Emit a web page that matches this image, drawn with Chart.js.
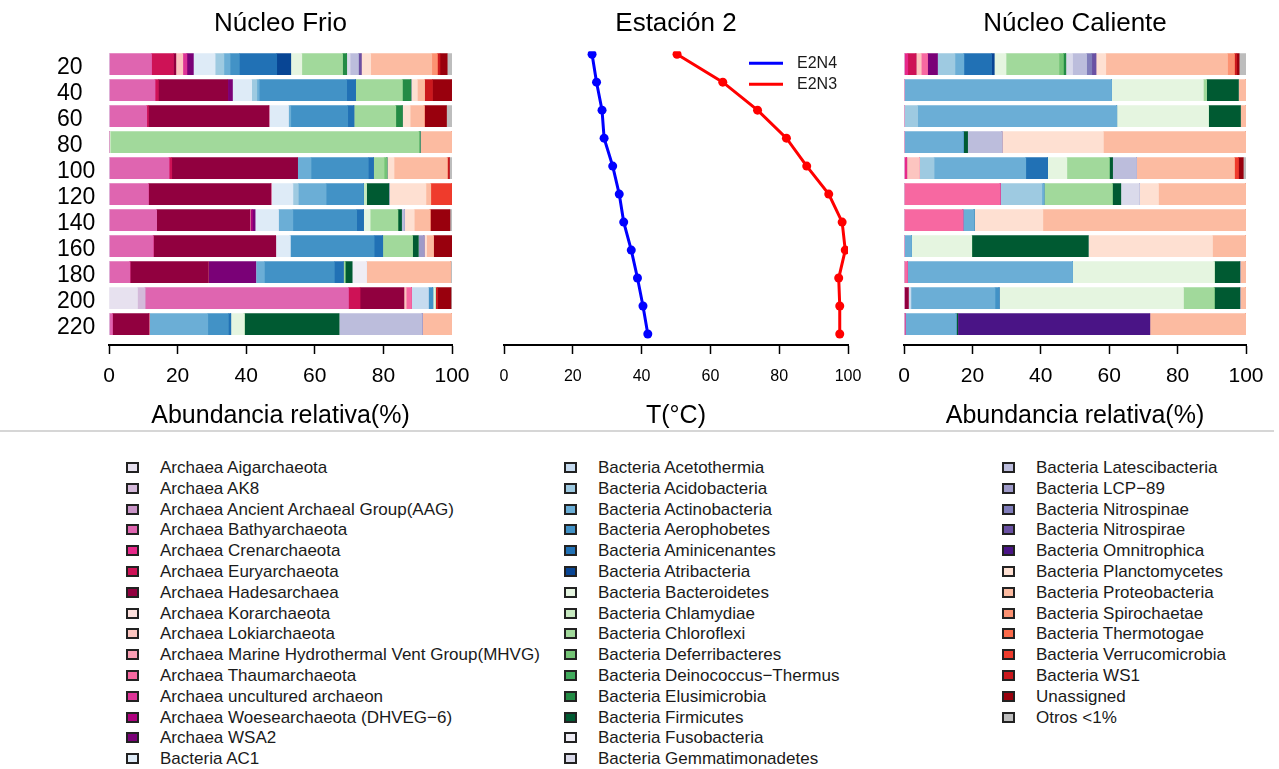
<!DOCTYPE html>
<html>
<head>
<meta charset="utf-8">
<title>Núcleo Frio / Estación 2 / Núcleo Caliente</title>
<script src="https://cdn.jsdelivr.net/npm/chart.js@4.4.1/dist/chart.umd.min.js"></script>
<style>
  html, body { margin: 0; padding: 0; background: #fff; }
  #page { position: relative; width: 1279px; height: 769px; overflow: hidden;
          font-family: 'Liberation Sans', Arial, sans-serif; }
  #page canvas { position: absolute; top: 0; }
  #rule { position: absolute; left: 0; top: 430px; width: 1274px; border-top: 2px solid #d6d6d6; }
  .key { position: absolute; height: 20px; line-height: 20px; font-size: 17px; color: #1a1a1a;
         white-space: nowrap; padding-left: 34px; }
  .key i { position: absolute; left: 0; top: 4px; width: 13px; height: 11px;
           border: 2px solid #222; box-sizing: border-box; }
</style>
</head>
<body>
<div id="page">
  <canvas id="frio" width="480" height="440" style="left:0px"></canvas>
  <canvas id="estacion" width="400" height="440" style="left:480px"></canvas>
  <canvas id="caliente" width="399" height="440" style="left:880px"></canvas>
  <div id="rule"></div>
  <div id="keys"></div>
</div>
<script>
// Sampling depths (rows of every panel)
const depths = [20, 40, 60, 80, 100, 120, 140, 160, 180, 200, 220];

// Taxa in stacking / legend order
const taxa = [
  'Archaea Aigarchaeota', 'Archaea AK8', 'Archaea Ancient Archaeal Group(AAG)', 'Archaea Bathyarchaeota',
  'Archaea Crenarchaeota', 'Archaea Euryarchaeota', 'Archaea Hadesarchaea', 'Archaea Korarchaeota',
  'Archaea Lokiarchaeota', 'Archaea Marine Hydrothermal Vent Group(MHVG)', 'Archaea Thaumarchaeota',
  'Archaea uncultured archaeon', 'Archaea Woesearchaeota (DHVEG\u22126)', 'Archaea WSA2',
  'Bacteria AC1', 'Bacteria Acetothermia', 'Bacteria Acidobacteria', 'Bacteria Actinobacteria',
  'Bacteria Aerophobetes', 'Bacteria Aminicenantes', 'Bacteria Atribacteria', 'Bacteria Bacteroidetes',
  'Bacteria Chlamydiae', 'Bacteria Chloroflexi', 'Bacteria Deferribacteres', 'Bacteria Deinococcus\u2212Thermus',
  'Bacteria Elusimicrobia', 'Bacteria Firmicutes', 'Bacteria Fusobacteria', 'Bacteria Gemmatimonadetes',
  'Bacteria Latescibacteria', 'Bacteria LCP\u221289', 'Bacteria Nitrospinae', 'Bacteria Nitrospirae',
  'Bacteria Omnitrophica', 'Bacteria Planctomycetes', 'Bacteria Proteobacteria', 'Bacteria Spirochaetae',
  'Bacteria Thermotogae', 'Bacteria Verrucomicrobia', 'Bacteria WS1', 'Unassigned', 'Otros <1%'
];

// One colour per taxon (sequential families per group)
const palette = [
  '#e7e1ef', '#d4b9da', '#c994c7', '#df65b0', '#e7298a', '#ce1256', '#91003f',
  '#fde0dd', '#fcc5c0', '#fa9fb5', '#f768a1', '#dd3497', '#ae017e', '#7a0177',
  '#deebf7', '#c6dbef', '#9ecae1', '#6baed6', '#4292c6', '#2171b5', '#084594',
  '#e5f5e0', '#c7e9c0', '#a1d99b', '#74c476', '#41ab5d', '#238b45', '#005a32',
  '#efedf5', '#dadaeb', '#bcbddc', '#9e9ac8', '#807dba', '#6a51a3', '#4a1486',
  '#fee0d2', '#fcbba1', '#fc9272', '#fb6a4a', '#ef3b2c', '#cb181d', '#99000d',
  '#bdbdbd'
];

// Short key of a taxon label: first word after the domain prefix
function keyOf(label) {
  return label.replace(/^(Archaea|Bacteria) /, '').replace(/\u2212/g, '-').split(/[ (]/)[0];
}

// Relative abundance (%) per depth, Núcleo Frio
const frio20 = { Bathyarchaeota: 12.4, Euryarchaeota: 6.4, Hadesarchaea: 0.7, Lokiarchaeota: 2.0, uncultured: 1.2, WSA2: 1.9,
  AC1: 6.3, Acidobacteria: 2.6, Actinobacteria: 1.8, Aerophobetes: 2.7, Aminicenantes: 10.9, Atribacteria: 4.1,
  Bacteroidetes: 3.2, Chloroflexi: 11.9, Elusimicrobia: 1.2, Gemmatimonadetes: 1.0, Latescibacteria: 2.4, Nitrospirae: 0.8,
  Planctomycetes: 2.8, Proteobacteria: 17.8, Spirochaetae: 1.6, WS1: 0.8, Unassigned: 2.1, Otros: 1.4 };
const frio40 = { Bathyarchaeota: 13.4, Euryarchaeota: 1.0, Hadesarchaea: 20.2, WSA2: 1.4, AC1: 5.6, Acidobacteria: 1.5,
  Actinobacteria: 0.7, Aerophobetes: 25.5, Aminicenantes: 2.6, Chloroflexi: 13.6, Elusimicrobia: 2.5,
  Planctomycetes: 1.9, Proteobacteria: 2.1, WS1: 2.3, Unassigned: 5.6 };
const frio60 = { Bathyarchaeota: 11.0, Euryarchaeota: 0.5, Hadesarchaea: 35.1, AC1: 5.7, Actinobacteria: 0.7,
  Aerophobetes: 16.6, Aminicenantes: 1.8, Chloroflexi: 12.2, Elusimicrobia: 1.9, Planctomycetes: 2.3,
  Proteobacteria: 4.1, Unassigned: 6.5, Otros: 1.6 };
const frio80 = { Chlamydiae: 0.5, Chloroflexi: 89.9, Elusimicrobia: 0.3, Proteobacteria: 9.3 };
const frio100 = { Bathyarchaeota: 17.5, Euryarchaeota: 0.8, Hadesarchaea: 36.7, Actinobacteria: 3.9, Aerophobetes: 16.7,
  Aminicenantes: 1.5, Chloroflexi: 3.1, Deferribacteres: 0.8, Planctomycetes: 2.1, Proteobacteria: 15.5, WS1: 0.6, Otros: 0.8 };
const frio120 = { Bathyarchaeota: 11.5, Hadesarchaea: 35.7, AC1: 6.4, Acidobacteria: 1.6, Actinobacteria: 8.1,
  Aerophobetes: 10.9, Chlamydiae: 0.9, Firmicutes: 6.5, Planctomycetes: 10.8, Proteobacteria: 1.4, Verrucomicrobia: 6.2 };
const frio140 = { Bathyarchaeota: 13.9, Hadesarchaea: 27.2, Woesearchaeota: 0.7, WSA2: 0.8, AC1: 6.8, Actinobacteria: 4.2,
  Aerophobetes: 18.6, Aminicenantes: 2.0, Bacteroidetes: 1.9, Chloroflexi: 8.1, Firmicutes: 1.1, Latescibacteria: 0.8,
  Planctomycetes: 2.9, Proteobacteria: 4.6, Unassigned: 5.8, Otros: 0.6 };
const frio160 = { Bathyarchaeota: 12.9, Hadesarchaea: 35.7, AC1: 4.2, Aerophobetes: 24.5, Aminicenantes: 2.5,
  Chloroflexi: 8.7, Firmicutes: 1.7, 'LCP-89': 1.6, Planctomycetes: 0.8, Proteobacteria: 2.0, Unassigned: 5.4 };
const frio180 = { Bathyarchaeota: 6.1, Hadesarchaea: 22.9, WSA2: 13.8, Actinobacteria: 2.5, Aerophobetes: 20.4,
  Aminicenantes: 2.6, Chloroflexi: 0.5, Firmicutes: 2.1, Fusobacteria: 4.2, Proteobacteria: 24.5, Otros: 0.4 };
const frio200 = { Aigarchaeota: 8.3, AK8: 2.2, Bathyarchaeota: 59.3, Euryarchaeota: 3.4, Hadesarchaea: 12.8,
  Lokiarchaeota: 0.6, Thaumarchaeota: 1.6, Acetothermia: 4.9, Aerophobetes: 1.3, Bacteroidetes: 0.7, WS1: 0.7,
  Unassigned: 3.9, Otros: 0.3 };
const frio220 = { Bathyarchaeota: 1.0, Hadesarchaea: 10.7, Actinobacteria: 17.1, Aerophobetes: 6.0, Aminicenantes: 0.7,
  Bacteroidetes: 3.9, Firmicutes: 27.7, Latescibacteria: 24.2, Proteobacteria: 8.7 };

// Relative abundance (%) per depth, Núcleo Caliente
const cal20 = { Crenarchaeota: 1.1, Euryarchaeota: 2.4, Lokiarchaeota: 1.5, Thaumarchaeota: 1.9, WSA2: 2.9,
  Acidobacteria: 5.1, Actinobacteria: 2.6, Aminicenantes: 8.1, Atribacteria: 0.8, Bacteroidetes: 3.4, Chloroflexi: 15.5,
  Deferribacteres: 1.3, Elusimicrobia: 0.7, Gemmatimonadetes: 2.0, Latescibacteria: 4.1, Nitrospinae: 1.5, Nitrospirae: 1.2,
  Planctomycetes: 2.9, Proteobacteria: 35.6, Spirochaetae: 2.0, WS1: 0.7, Unassigned: 0.7, Otros: 2.0 };
const cal40 = { Actinobacteria: 60.7, Bacteroidetes: 26.8, Chloroflexi: 1.0, Firmicutes: 9.3, Proteobacteria: 2.2 };
const cal60 = { Acidobacteria: 4.0, Actinobacteria: 58.2, Bacteroidetes: 26.8, Firmicutes: 9.4, Proteobacteria: 1.6 };
const cal80 = { Actinobacteria: 17.3, Firmicutes: 1.3, Latescibacteria: 10.0, Planctomycetes: 29.7, Proteobacteria: 41.7 };
const cal100 = { Crenarchaeota: 0.8, Lokiarchaeota: 3.7, Acidobacteria: 4.3, Actinobacteria: 26.8, Aminicenantes: 6.4,
  Bacteroidetes: 5.6, Chloroflexi: 12.4, Firmicutes: 1.0, Latescibacteria: 7.0, Proteobacteria: 28.6,
  Verrucomicrobia: 1.2, Unassigned: 1.4, Otros: 0.8 };
const cal120 = { Thaumarchaeota: 28.1, Acidobacteria: 12.2, Actinobacteria: 0.6, Chloroflexi: 20.0, Firmicutes: 2.5,
  Gemmatimonadetes: 5.4, Planctomycetes: 5.6, Proteobacteria: 25.6 };
const cal140 = { Thaumarchaeota: 17.2, Actinobacteria: 3.3, Planctomycetes: 20.1, Proteobacteria: 59.4 };
const cal160 = { Actinobacteria: 2.2, Bacteroidetes: 17.6, Firmicutes: 34.1, Planctomycetes: 36.3, Proteobacteria: 9.8 };
const cal180 = { Thaumarchaeota: 1.0, Actinobacteria: 48.3, Bacteroidetes: 41.4, Firmicutes: 7.5, Proteobacteria: 1.8 };
const cal200 = { Hadesarchaea: 1.3, Acetothermia: 0.7, Actinobacteria: 24.6, Aerophobetes: 1.2, Bacteroidetes: 53.9,
  Chloroflexi: 9.0, Firmicutes: 7.5, Proteobacteria: 1.8 };
const cal220 = { Thaumarchaeota: 0.3, Actinobacteria: 14.9, Firmicutes: 0.5, Omnitrophica: 56.2, Proteobacteria: 28.1 };

const frioRows = [frio20, frio40, frio60, frio80, frio100, frio120, frio140, frio160, frio180, frio200, frio220];
const calienteRows = [cal20, cal40, cal60, cal80, cal100, cal120, cal140, cal160, cal180, cal200, cal220];

// Temperature profiles, Estación 2 (°C)
const seriesNames = ['E2N4', 'E2N3'];
const tempE2N4 = [25.6, 26.9, 28.5, 29.1, 31.6, 33.5, 34.8, 37.0, 38.8, 40.4, 41.8];
const tempE2N3 = [50.3, 63.6, 73.7, 82.1, 88.0, 94.4, 98.3, 99.2, 97.3, 97.6, 97.6];

const FONT = "'Liberation Sans', Arial, sans-serif";
Chart.defaults.font.family = FONT;
Chart.defaults.color = '#000';
Chart.defaults.animation = false;

function panelTitle(text) {
  return { display: true, text, fullSize: false, color: '#000',
           font: { family: FONT, size: 26, weight: 'normal' }, padding: { top: 8, bottom: 12 } };
}

function bottomAxis(titleText, tickSize, tickPad) {
  return {
    type: 'linear', min: 0, max: 100, stacked: true,
    ticks: { stepSize: 20, color: '#000', font: { size: tickSize }, padding: tickPad, maxRotation: 0 },
    grid: { drawOnChartArea: false, drawTicks: true, tickLength: 9, tickColor: '#000', tickWidth: 1.5 },
    border: { display: true, color: '#000', width: 2 },
    title: { display: true, text: titleText, color: '#000', font: { size: 25 }, padding: { top: 0, bottom: 9 } },
    afterFit(scale) { scale.height = 95; }
  };
}

function barPanel(id, rows, title, showDepth, pad) {
  const datasets = taxa.map((label, i) => ({
    label,
    data: depths.map((d, j) => ({ x: rows[j][keyOf(label)] || 0, y: d })),
    backgroundColor: palette[i],
    borderWidth: 0,
    barThickness: 21,
    stack: 'abundance'
  }));
  return new Chart(document.getElementById(id), {
    type: 'bar',
    data: { datasets },
    options: {
      responsive: false, devicePixelRatio: 1, indexAxis: 'y',
      layout: { padding: { left: pad.left, right: pad.right, top: 0, bottom: 0 } },
      plugins: { legend: { display: false }, tooltip: { enabled: false }, title: panelTitle(title) },
      scales: {
        x: bottomAxis('Abundancia relativa(%)', 21, 10),
        y: {
          type: 'linear', reverse: true, min: 10, max: 236, offset: false, stacked: true, display: showDepth,
          afterBuildTicks(scale) { scale.ticks = depths.map(v => ({ value: v })); },
          afterFit(scale) { if (showDepth) scale.width = 52; },
          ticks: { crossAlign: 'far', color: '#000', font: { size: 23 }, padding: 0, autoSkip: false, labelOffset: 3 },
          grid: { display: false, offset: false }, border: { display: false }
        }
      }
    }
  });
}

// Line key drawn in the upper right of the temperature panel
const lineKey = {
  id: 'lineKey',
  afterDraw(chart) {
    const { ctx, chartArea } = chart;
    ctx.save();
    chart.data.datasets.forEach((ds, i) => {
      const y = chartArea.top + 12 + i * 21;
      ctx.strokeStyle = ds.borderColor;
      ctx.lineWidth = 3;
      ctx.beginPath();
      ctx.moveTo(chartArea.right - 99, y);
      ctx.lineTo(chartArea.right - 65, y);
      ctx.stroke();
      ctx.fillStyle = '#1a1a1a';
      ctx.font = '16px ' + FONT;
      ctx.textBaseline = 'middle';
      ctx.textAlign = 'left';
      ctx.fillText(ds.label, chartArea.right - 51, y);
    });
    ctx.restore();
  }
};

barPanel('frio', frioRows, 'Núcleo Frio', true, { left: 57, right: 28 });
barPanel('caliente', calienteRows, 'Núcleo Caliente', false, { left: 24, right: 33 });

new Chart(document.getElementById('estacion'), {
  type: 'scatter',
  data: {
    datasets: [
      { label: seriesNames[0], data: depths.map((d, i) => ({ x: tempE2N4[i], y: d })),
        borderColor: '#0000ff', backgroundColor: '#0000ff', showLine: true, borderWidth: 3,
        pointRadius: 4.5, pointBorderWidth: 0 },
      { label: seriesNames[1], data: depths.map((d, i) => ({ x: tempE2N3[i], y: d })),
        borderColor: '#ff0000', backgroundColor: '#ff0000', showLine: true, borderWidth: 3,
        pointRadius: 4.5, pointBorderWidth: 0 }
    ]
  },
  options: {
    responsive: false, devicePixelRatio: 1,
    layout: { padding: { left: 24, right: 32, top: 0, bottom: 0 } },
    plugins: { legend: { display: false }, tooltip: { enabled: false }, title: panelTitle('Estación 2') },
    scales: {
      x: Object.assign(bottomAxis('T(°C)', 16, 13), { stacked: false }),
      y: { type: 'linear', reverse: true, min: 17.86, max: 227.86, display: false }
    }
  },
  plugins: [lineKey]
});

// Legend of taxa in three columns
const keyColumns = [
  { swatchX: 126, count: 15 },
  { swatchX: 564, count: 15 },
  { swatchX: 1002, count: 13 }
];
const keysBox = document.getElementById('keys');
let k = 0;
keyColumns.forEach(col => {
  for (let r = 0; r < col.count; r++, k++) {
    const item = document.createElement('div');
    item.className = 'key';
    item.style.left = col.swatchX + 'px';
    item.style.top = (458 + r * 20.8) + 'px';
    const sw = document.createElement('i');
    sw.style.background = palette[k];
    item.appendChild(sw);
    item.appendChild(document.createTextNode(taxa[k]));
    keysBox.appendChild(item);
  }
});
</script>
</body>
</html>
